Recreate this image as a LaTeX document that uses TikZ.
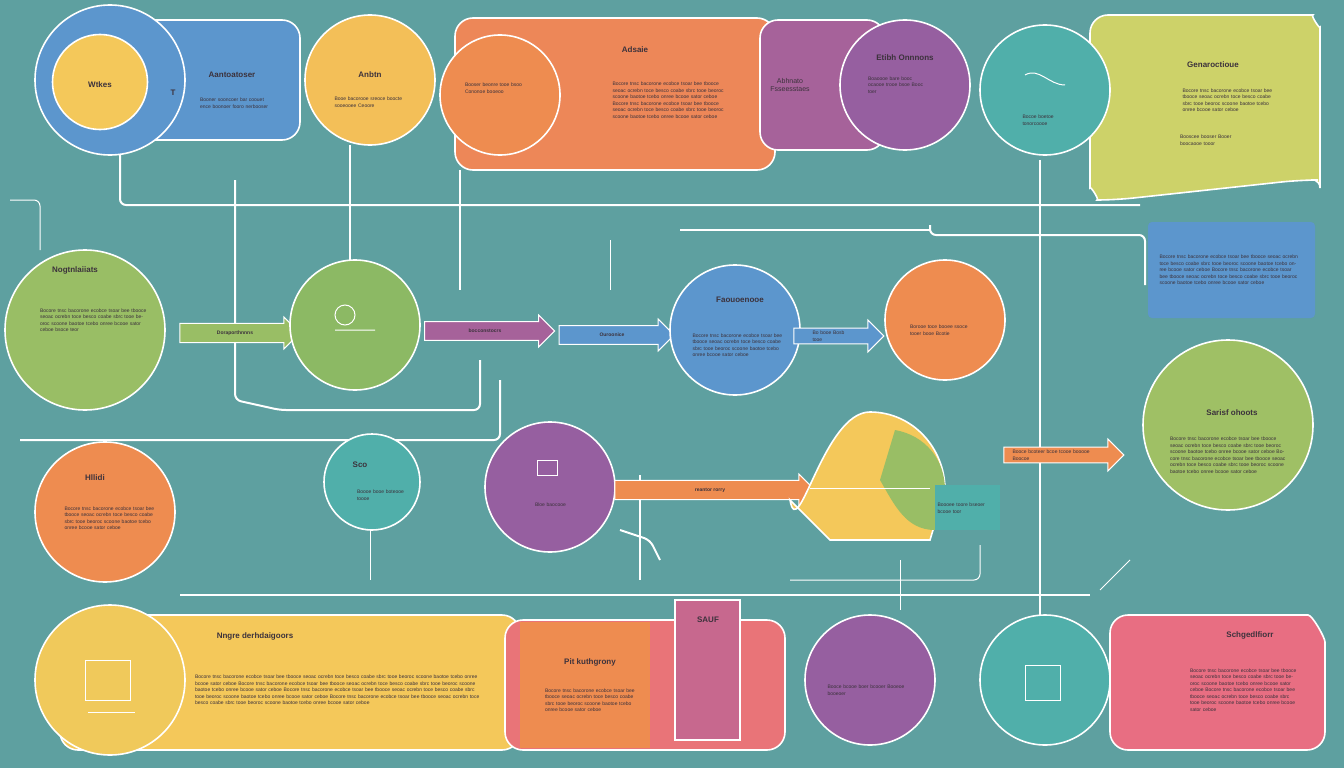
\documentclass[tikz,border=0pt]{standalone}
\usepackage{fontspec}
\setmainfont{Liberation Sans}
\usetikzlibrary{shapes.arrows,shapes.geometric}
\definecolor{bg}{RGB}{94,160,160}
\definecolor{cblue}{RGB}{92,150,205}
\definecolor{cyel}{RGB}{244,200,90}
\definecolor{corg}{RGB}{238,140,80}
\definecolor{cpink}{RGB}{232,110,130}
\definecolor{cpur}{RGB}{150,95,160}
\definecolor{cgrn}{RGB}{140,185,100}
\definecolor{cteal}{RGB}{80,175,170}
\definecolor{clime}{RGB}{205,210,105}
\definecolor{txt}{RGB}{60,50,60}
\newcommand{\gibtext}{Bocore tnsc bacorone ecobce tsoar bee tbooce seoac ocrebn toce besco coabe sbrc tooe beoroc scoone baotoe tcebo onree bcooe sator ceboe}
\tikzset{
 cir/.style={circle,draw=white,line width=1.6pt,minimum size=#1},
 box/.style={rounded corners=18pt,draw=white,line width=1.6pt},
 ttl/.style={font=\bfseries\footnotesize,text=txt},
 gib/.style={font=\fontsize{5}{6.5}\selectfont,text=txt,text width=#1,align=left},
 arr/.style={single arrow,draw=white,line width=1pt,minimum height=#1,minimum width=32pt,single arrow head extend=4pt,font=\bfseries\tiny,text=txt},
 wire/.style={draw=white,line width=2pt,rounded corners=6pt},
 thin/.style={draw=white,line width=1pt,rounded corners=6pt},
}
\begin{document}
\begin{tikzpicture}[x=1pt,y=-1pt]
\fill[bg] (0,0) rectangle (1344,768);
\useasboundingbox (0,0) rectangle (1344,768);
% wires behind
\draw[wire] (120,140) -- (120,205) -- (1140,205);
\draw[wire] (930,225) -- (930,235) -- (1145,235) -- (1145,285);
\draw[wire] (680,230) -- (930,230);
\draw[wire] (235,180) -- (235,400) -- (280,410) -- (480,410) -- (480,360);
\draw[wire] (350,145) -- (350,260);
\draw[wire] (460,170) -- (460,290);
\draw[wire] (500,380) -- (500,440) -- (420,440) -- (20,440);
\draw[wire] (180,595) -- (1090,595);
\draw[wire] (640,475) -- (640,580);
\draw[wire] (1040,160) -- (1040,615);
\draw[wire] (620,530) -- (650,540) -- (660,560);
\draw[thin] (790,580) -- (980,580) -- (980,545);
\draw[thin] (900,560) -- (900,610);
\draw[thin] (1100,590) -- (1130,560);
\draw[thin] (370,530) -- (370,580);
\draw[thin] (610,240) -- (610,290);
\draw[thin] (10,200) -- (40,200) -- (40,250);
% top row
\draw[box,fill=cblue] (60,20) rectangle (300,140);
\node[cir=150pt,fill=cblue] (c1) at (110,80) {};
\node[cir=95pt,fill=cyel] (c1b) at (100,82) {};
\node[ttl] at (100,85) {Wtkes};
\node[ttl] at (173,93) {T};
\node[ttl] (t1) at (232,75) {Aantoatoser};
\node[gib=70pt] at (235,103) {Booner sooncoer bar coouet ence boonoer fooro nerbooser};
\node[cir=130pt,fill=cyel!85!corg] (c2) at (370,80) {};
\node[ttl] at (370,75) {Anbtn};
\node[gib=75pt] at (372,102) {Booe bacorooe sreoce boocte sooeooee Ceoore};
\draw[box,fill=corg!85!cpink] (455,18) rectangle (775,170);
\draw[box,fill=cpur!80!cpink] (760,20) rectangle (885,150);
\node[cir=120pt,fill=corg] (c3) at (500,95) {};
\node[gib=70pt] at (500,88) {Booser beonre tooe bsoo Cononoe booeoo};
\node[ttl] at (635,50) {Adsaie};
\node[gib=115pt] at (670,100) {\gibtext\ \gibtext};
\node[ttl,font=\scriptsize] at (790,85) {\shortstack{Abhnato\\Fsseesstaes}};
\node[cir=130pt,fill=cpur] (c4) at (905,85) {};
\node[ttl] at (905,58) {Etibh Onnnons};
\node[gib=60pt] at (898,85) {Boaoooe bare booc ocaooe trooe bsoe Booc toer};
\draw[box,fill=clime] (1090,15) -- (1295,15) to[out=0,in=90] (1320,45) -- (1320,170) to[out=-90,in=0] (1300,180) -- (1115,200) to[out=180,in=-90] (1090,170) -- cycle;
\node[cir=130pt,fill=cteal] (c5) at (1045,90) {};
\draw[white,line width=1pt] (1025,75) to[out=30,in=180] (1065,85);
\node[gib=45pt] at (1045,120) {Bocoe boetoe tonorcoooe};
\node[ttl] at (1213,65) {Genaroctioue};
\node[gib=95pt] at (1230,100) {\gibtext};
\node[gib=60pt] at (1210,140) {Booscee booser Booer boocaooe tooor};
% middle
\node[cir=160pt,fill=cgrn!80!clime] (c6) at (85,330) {};
\node[ttl] at (75,270) {Nogtnlaiiats};
\node[gib=110pt] at (95,320) {\gibtext\ bsoce teor};
\node[arr=120pt,fill=cgrn!80!clime] (a1) at (235,333) {Doraporthnnns};
\node[cir=130pt,fill=cgrn] (c7) at (355,325) {};
\draw[white,line width=1pt] (345,315) circle (10) (335,330)--(375,330);
\node[arr=130pt,fill=cpur!80!cpink] (a2) at (485,331) {bocconstocrs};
\node[arr=115pt,fill=cblue] (a3) at (612,335) {Ouroonice};
\node[cir=130pt,fill=cblue] (c8) at (735,330) {};
\node[ttl] at (740,300) {Faouoenooe};
\node[gib=95pt] at (740,345) {\gibtext};
\node[arr=90pt,fill=cblue] (a4) at (835,336) {};
\node[gib=35pt] at (830,336) {Bo booe Bosb tooe};
\node[cir=120pt,fill=corg] (c9) at (945,320) {};
\node[gib=70pt] at (945,330) {Borooe toce booee ssoce tooer booe Bcotie};
\fill[cblue,rounded corners=4pt] (1148,222) rectangle (1315,318);
\node[gib=145pt] at (1232,270) {\gibtext\ \gibtext};
\node[cir=170pt,fill=cgrn!70!clime] (c10) at (1228,425) {};
\node[ttl] at (1232,413) {Sarisf ohoots};
\node[gib=120pt] at (1230,455) {\gibtext\ \gibtext};
\node[arr=120pt,fill=corg] (a5) at (1060,455) {};
\node[gib=85pt] at (1055,455) {Booce bcoteer bcoe tcooe booooe Boocoe};
% lower middle
\node[cir=140pt,fill=corg] (c11) at (105,512) {};
\node[ttl] at (95,478) {Hllidi};
\node[gib=95pt] at (112,518) {\gibtext};
\node[cir=96pt,fill=cteal] (c12) at (372,482) {};
\node[ttl] at (360,465) {Sco};
\node[gib=50pt] at (382,495) {Boooe booe boteooe toooe};
\node[cir=130pt,fill=cpur] (c13) at (550,487) {};
\draw[white,line width=1pt] (537,460) rectangle (557,475);
\node[gib=50pt] at (560,505) {Bloe baocooe};
\node[arr=200pt,fill=corg] (a6) at (710,490) {reantor rorry};
\fill[cyel,draw=white,line width=1.6pt] (790,500) to[out=-80,in=180] (870,412) to[out=0,in=90] (945,490) -- (930,540) -- (830,540) -- cycle;
\fill[cgrn!80!clime] (895,430) to[out=-10,in=90] (945,490) -- (935,530) to[out=180,in=-60] (880,480) -- cycle;
\fill[cteal] (935,485) rectangle (1000,530);
\draw[white,line width=1pt] (810,488) -- (930,488);
\node[gib=55pt] at (965,508) {Boooee toore bseoer bcooe toor};
% bottom
\draw[box,fill=cyel] (60,615) rectangle (520,750);
\node[cir=150pt,fill=cyel!90!clime] (c14) at (110,680) {};
\draw[white,line width=1pt] (85,660) rectangle (130,700) (88,712) -- (135,712);
\node[ttl] at (255,636) {Nngre derhdaigoors};
\node[gib=290pt] at (340,690) {\gibtext\ \gibtext\ \gibtext\ \gibtext};
\draw[box,fill=cpink!80!corg] (505,620) rectangle (785,750);
\fill[corg] (520,622) rectangle (650,748);
\node[ttl] at (590,662) {Pit kuthgrony};
\node[gib=90pt] at (590,700) {\gibtext};
\draw[white,line width=1.6pt,fill=cpink!60!cpur] (675,600) rectangle (740,740);
\node[ttl] at (708,620) {SAUF};
\node[cir=130pt,fill=cpur] (c15) at (870,680) {};
\node[gib=85pt] at (870,690) {Booce bcooe boer bcooer Booeoe booeoer};
\draw[box,fill=cpink] (1110,615) -- (1290,615) to[out=0,in=90] (1325,660) -- (1325,750) -- (1110,750) -- cycle;
\node[cir=130pt,fill=cteal] (c16) at (1045,680) {};
\draw[white,line width=1pt] (1025,665) rectangle (1060,700);
\node[ttl] at (1250,635) {Schgedlfiorr};
\node[gib=110pt] at (1245,690) {\gibtext\ \gibtext};
\end{tikzpicture}
\end{document}
